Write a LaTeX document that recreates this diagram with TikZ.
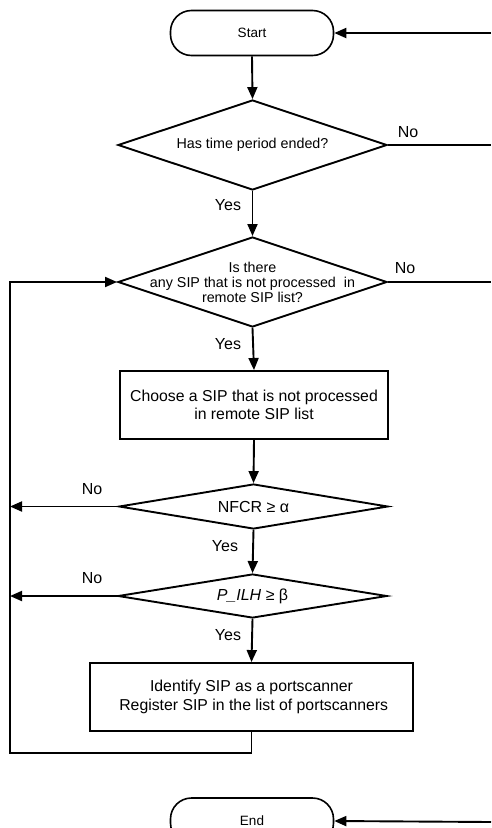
\documentclass[tikz,border=0pt]{standalone}
\usepackage{fontspec}
\setmainfont{Liberation Sans}
\usetikzlibrary{arrows.meta,shapes.geometric}

\tikzset{
  flow/.style={line width=1.9pt, line join=miter},
  arrow/.style={flow, -{Triangle[length=12pt,width=10pt]}},
  terminal/.style={draw, line width=1.6pt, rounded corners=21pt,
    minimum width=163pt, minimum height=45pt, inner sep=0pt,
    font=\fontsize{13.5}{16}\selectfont},
  process/.style={draw, line width=1.9pt, inner sep=0pt, align=center,
    font=\fontsize{15.8}{18.5}\selectfont},
  decision/.style={draw, shape=diamond, line width=1.9pt, inner sep=0pt,
    minimum width=269pt},
  dtext/.style={align=center, inner sep=0pt, font=\fontsize{14.3}{15}\selectfont},
  ctext/.style={align=center, inner sep=0pt, font=\fontsize{16}{19}\selectfont},
  branch/.style={inner sep=0pt, font=\fontsize{16}{19}\selectfont},
}

\begin{document}
\begin{tikzpicture}[x=1pt, y=-1pt]
  \useasboundingbox (0,0) rectangle (491,828);

  % terminals
  \node[terminal] (start) at (252,33) {Start};
  \node[terminal, minimum height=46pt] (end) at (252,821) {End};

  % decisions
  \node[decision, minimum height=90pt] (d1) at (252.5,145) {};
  \node[dtext] (t1) at (d1.center) {Has time period ended?};

  \node[decision, minimum height=90pt] (d2) at (252.5,282) {};
  \node[dtext] (t2) at (d2.center) {Is there\\any SIP that is not processed\ \ in\\remote SIP list?};

  \node[decision, minimum height=45pt] (d3) at (253.5,506.5) {};
  \node[ctext] (t3) at (d3.center) {NFCR ≥ α};

  \node[decision, minimum height=44pt] (d4) at (252.5,596) {};
  \node[ctext] (t4) at (d4.center) {\textit{P\_ILH} ≥ β};

  % processes
  \node[process, minimum width=268pt, minimum height=68pt] (b1) at (254,405)
    {Choose a SIP that is not processed\\in remote SIP list};
  \node[process, minimum width=323pt, minimum height=68pt] (b2) at (251.5,697)
    {Identify SIP as a portscanner\\\ Register SIP in the list of portscanners};

  % helper points for the side lines
  \coordinate (r0) at (491,33);
  \coordinate (r1) at (491,145);
  \coordinate (r2) at (491,282);
  \coordinate (r3) at (491,822);
  \coordinate (lb) at (10,753);
  \coordinate (lt) at (10,282);

  % main column
  \draw[arrow] (start.south) -- (d1.north);
  \draw[arrow] (d1.south) -- (d2.north);
  \draw[arrow] (d2.south) -- (b1.north);
  \draw[arrow] (b1.south) -- (d3.north);
  \draw[arrow] (d3.south) -- (d4.north);
  \draw[arrow] (d4.south) -- (b2.north);

  % loop back to the list check
  \draw[arrow] (b2.south) |- (lb) -- (lt) -- (d2.west);
  \draw[arrow] (d3.west) -- (d3.west -| lt);
  \draw[arrow] (d4.west) -- (d4.west -| lt);

  % right-hand returns
  \draw[flow] (d1.east) -- (r1);
  \draw[arrow] (r0) -- (start.east);
  \draw[flow] (d2.east) -- (r2);
  \draw[arrow] (r3) -- (end.east);

  % branch labels
  \node[branch] (n1) at (408,132) {No};
  \node[branch] (n2) at (405,268) {No};
  \node[branch] (n3) at (92,489) {No};
  \node[branch] (n4) at (92,578) {No};
  \node[branch] (y1) at (228,205) {Yes};
  \node[branch] (y2) at (228,344) {Yes};
  \node[branch] (y3) at (225,546) {Yes};
  \node[branch] (y4) at (228,635) {Yes};
\end{tikzpicture}
\end{document}
